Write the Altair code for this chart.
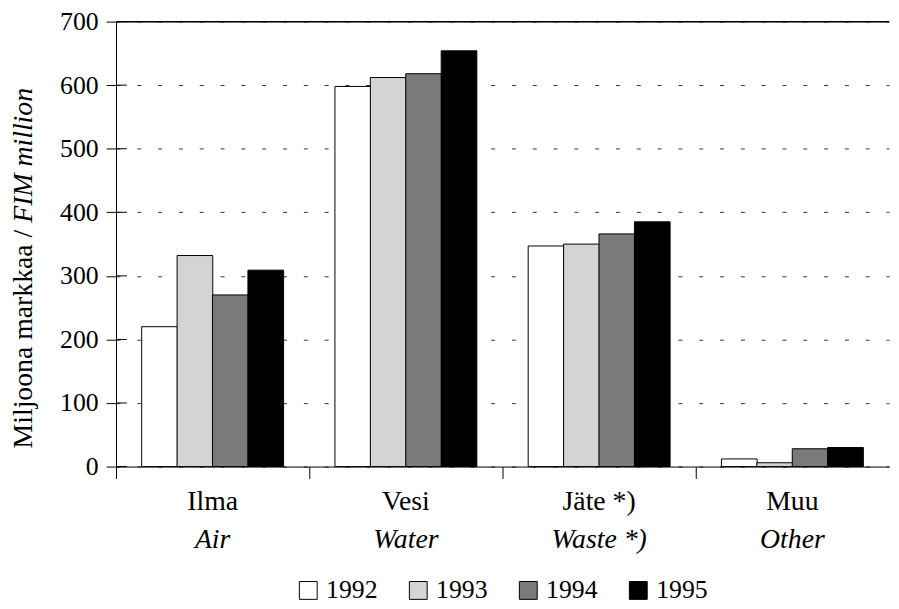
import altair as alt
import pandas as pd

categories = ["Ilma", "Vesi", "Jäte *)", "Muu"]
categories_en = ["Air", "Water", "Waste *)", "Other"]
years = ["1992", "1993", "1994", "1995"]
v1992 = [220, 598, 347, 12]
v1993 = [332, 612, 350, 6]
v1994 = [270, 618, 366, 28]
v1995 = [309, 654, 385, 30]
y_ticks = [0, 100, 200, 300, 400, 500, 600, 700]

series = {"1992": v1992, "1993": v1993, "1994": v1994, "1995": v1995}
rows = []
for y in years:
    for c, v in zip(categories, series[y]):
        rows.append({"cat": c, "year": y, "value": v})
df = pd.DataFrame(rows)
labels_df = pd.DataFrame({"cat": categories, "en": categories_en})
ticks_df = pd.DataFrame({"v": y_ticks})

FONT = "Liberation Serif"

xscale = alt.Scale(domain=categories, paddingInner=0.267, paddingOuter=0.1335)
yscale = alt.Scale(domain=[0, 700], nice=False)

bars = alt.Chart(df).mark_bar(stroke="black", strokeWidth=1, size=36).encode(
    x=alt.X("cat:N", scale=xscale, sort=categories,
            axis=alt.Axis(title=None, labels=False, ticks=True, tickSize=12,
                          tickOffset=-97.5, tickColor="black", domainColor="black",
                          grid=False, tickWidth=1)),
    xOffset=alt.XOffset("year:N", sort=years, scale=alt.Scale(paddingInner=0, paddingOuter=0)),
    y=alt.Y("value:Q", scale=yscale,
            axis=alt.Axis(title=None, values=y_ticks, tickSize=10, tickColor="black",
                          domainColor="black", labelFont=FONT, labelFontSize=26,
                          labelColor="black", labelPadding=8,
                          grid=True, gridColor="#333", gridDash=[4, 17], gridWidth=1)),
    color=alt.Color("year:N", sort=years,
                    scale=alt.Scale(domain=years, range=["#ffffff", "#d4d4d4", "#7a7a7a", "#000000"]),
                    legend=alt.Legend(title=None, orient="none", direction="horizontal",
                                      legendX=181, legendY=561, symbolType="square",
                                      symbolSize=324, symbolStrokeColor="black",
                                      symbolStrokeWidth=1, labelFont=FONT, labelFontSize=26,
                                      labelColor="black", columnPadding=28, labelOffset=5,
                                      symbolOpacity=1)),
)

top_rule = alt.Chart(ticks_df).mark_rule(color="black", strokeWidth=1).encode(
    y=alt.datum(700, scale=yscale)
)

inner_ticks = alt.Chart(ticks_df).mark_rule(color="black", strokeWidth=1).encode(
    y=alt.Y("v:Q", scale=yscale), x=alt.value(0), x2=alt.value(11)
)

fi_labels = alt.Chart(labels_df).mark_text(font=FONT, fontSize=28, color="black",
                                           baseline="alphabetic").encode(
    x=alt.X("cat:N", scale=xscale, sort=categories), y=alt.value(493), text="cat:N"
)
en_labels = alt.Chart(labels_df).mark_text(font=FONT, fontSize=28, fontStyle="italic",
                                           color="black", baseline="alphabetic").encode(
    x=alt.X("cat:N", scale=xscale, sort=categories), y=alt.value(531), text="en:N"
)

title_df = pd.DataFrame({"roman": ["Miljoona markkaa /"], "ital": ["FIM million"]})
title_roman = alt.Chart(title_df).mark_text(font=FONT, fontSize=28, color="black", angle=270,
                                            align="right", baseline="alphabetic").encode(
    x=alt.value(-85), y=alt.value(210), text="roman:N"
)
title_ital = alt.Chart(title_df).mark_text(font=FONT, fontSize=28, fontStyle="italic",
                                           color="black", angle=270, align="left",
                                           baseline="alphabetic").encode(
    x=alt.value(-85), y=alt.value(203), text="ital:N"
)

chart = alt.layer(
    bars, top_rule, inner_ticks, fi_labels, en_labels, title_roman, title_ital
).properties(
    width=780, height=449,
    autosize=alt.AutoSizeParams(type="none"),
    padding={"left": 109, "top": 11, "right": 2, "bottom": 140},
    background="white",
).configure_view(stroke=None)

chart.save("out.html", embed_options={"renderer": "svg", "actions": False})
